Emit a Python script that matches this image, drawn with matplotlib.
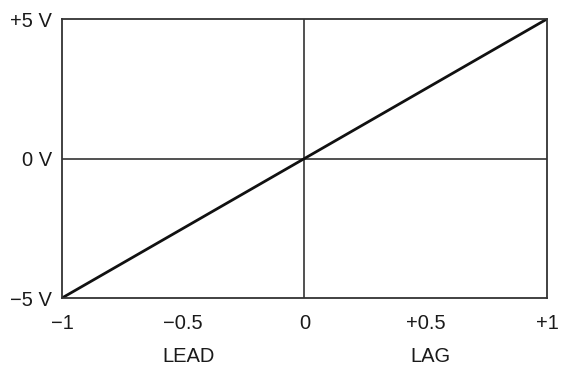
import matplotlib
matplotlib.use("Agg")
import matplotlib.pyplot as plt

plt.rcParams['font.family'] = ['Liberation Sans', 'DejaVu Sans']

phase = [-1, 1]
volts = [-5, 5]
x_ticks = [-1, -0.5, 0, 0.5, 1]
x_labels = ['\u22121', '\u22120.5', '0', '+0.5', '+1']
y_ticks = [-5, 0, 5]
y_labels = ['\u22125 V', '0 V', '+5 V']
sides = ['LEAD', 'LAG']
side_pos = [-0.5, 0.5]

fig = plt.figure(figsize=(5.61, 3.69), dpi=100)
ax = fig.add_axes([0.1105, 0.1924, 0.8645, 0.7561])
ax.set_xlim(-1, 1)
ax.set_ylim(-5, 5)

ax.axhline(0, color='#222222', lw=1.1)
ax.axvline(0, color='#222222', lw=1.1)
ax.plot(phase, volts, color='#111111', lw=2.0, solid_capstyle='butt')

for s in ax.spines.values():
    s.set_color('#333333')
    s.set_linewidth(1.3)

ax.set_xticks(x_ticks)
ax.set_xticklabels(x_labels)
ax.set_yticks(y_ticks)
ax.set_yticklabels(y_labels)
ax.tick_params(length=0, labelsize=14.5, colors='#1a1a1a')
ax.tick_params(axis='x', pad=11.5)
ax.tick_params(axis='y', pad=7)

for lab, p in zip(sides, side_pos):
    ax.text(p + 0.02, -0.229, lab, transform=ax.get_xaxis_transform(), ha='center', va='baseline',
            fontsize=14.5, color='#1a1a1a')

fig.savefig('out.png', dpi=100)
